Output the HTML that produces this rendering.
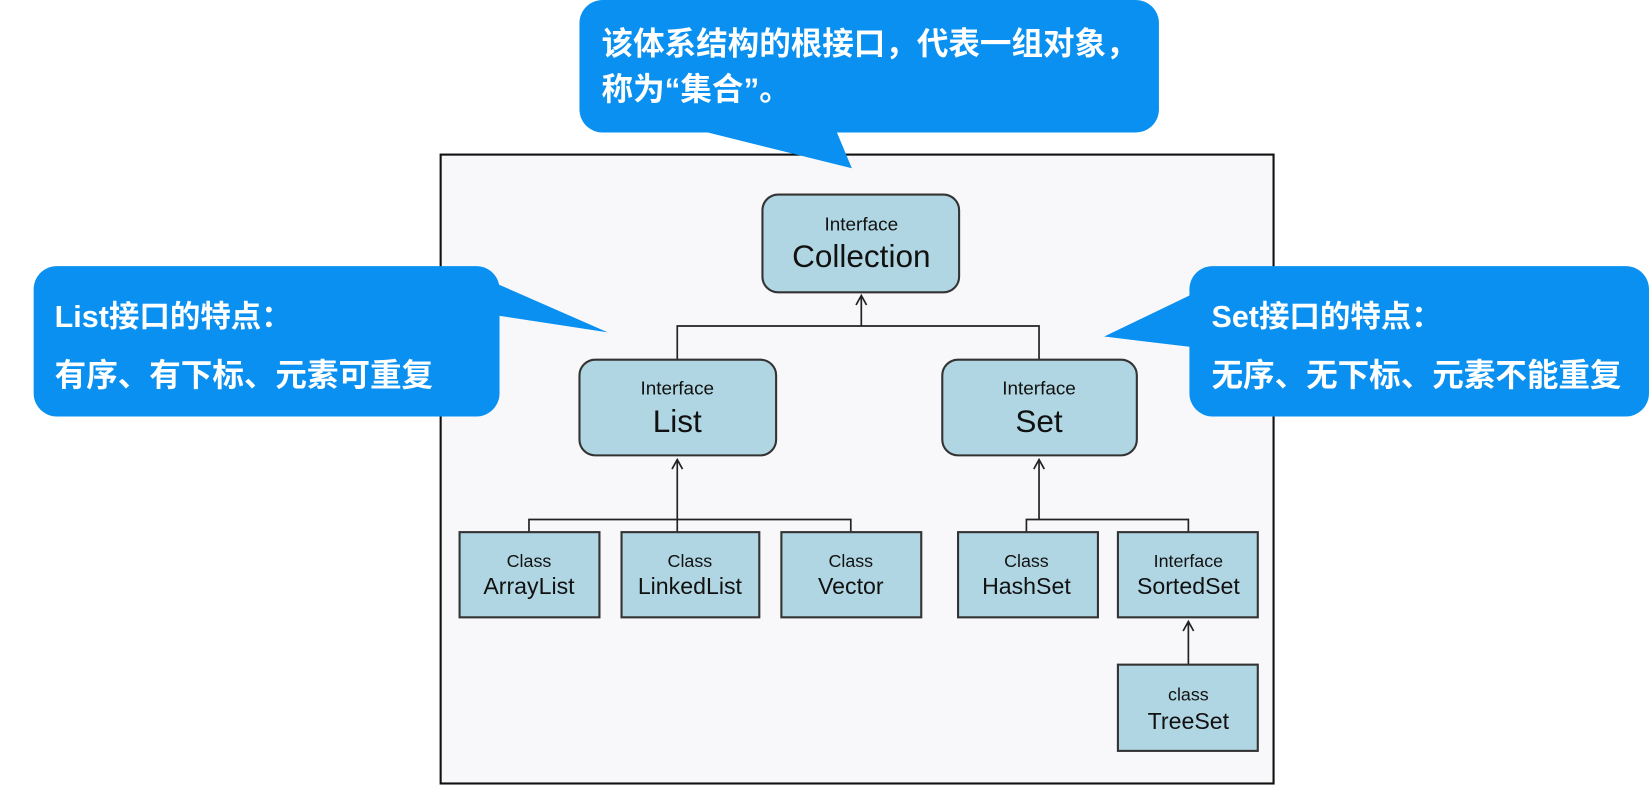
<!DOCTYPE html>
<html><head><meta charset="utf-8"><style>
html,body{margin:0;padding:0;background:#fff;}
svg{display:block;}
.cn{font-family:"Liberation Sans","Noto Sans CJK SC",sans-serif;font-weight:bold;fill:#fff;}
.s{font-family:"Liberation Sans",sans-serif;fill:#111;text-anchor:middle;}
</style></head><body>
<svg width="1649" height="802" viewBox="0 0 1568 762.6" xmlns="http://www.w3.org/2000/svg">
<rect x="0" y="0" width="1568" height="763" fill="#fff"/>
<rect x="419" y="147" width="792" height="598" fill="#f8f8fb" stroke="#111" stroke-width="2"/>
<g stroke="#222" stroke-width="1.6" fill="none">
<path d="M819 310 V282 M644 342 V310 H988 V342"/>
<path d="M644 506 V437 M503 506 V494 H809 V506"/>
<path d="M988 494 V437 M976 506 V494 H1130 V506"/>
<path d="M1130 632 V591"/>
<path d="M814 290 L819 281 L824 290 M639 446 L644 437 L649 446 M983 446 L988 437 L993 446 M1125 600 L1130 591 L1135 600"/>
</g>
<g fill="#b0d6e3" stroke="#333" stroke-width="2">
<rect x="725" y="185" width="187" height="93" rx="15"/>
<rect x="551" y="342" width="187" height="91" rx="15"/>
<rect x="896" y="342" width="185" height="91" rx="15"/>
<rect x="437" y="506" width="133" height="81"/>
<rect x="591" y="506" width="131" height="81"/>
<rect x="743" y="506" width="133" height="81"/>
<rect x="911" y="506" width="133" height="81"/>
<rect x="1063" y="506" width="133" height="81"/>
<rect x="1063" y="632" width="133" height="82"/>
</g>
<g class="s">
<text x="819" y="219" font-size="18">Interface</text><text x="819" y="254" font-size="30">Collection</text>
<text x="644" y="375" font-size="18">Interface</text><text x="644" y="411" font-size="30">List</text>
<text x="988" y="375" font-size="18">Interface</text><text x="988" y="411" font-size="30">Set</text>
<text x="503" y="539" font-size="17">Class</text><text x="503" y="565" font-size="22">ArrayList</text>
<text x="656" y="539" font-size="17">Class</text><text x="656" y="565" font-size="22">LinkedList</text>
<text x="809" y="539" font-size="17">Class</text><text x="809" y="565" font-size="22">Vector</text>
<text x="976" y="539" font-size="17">Class</text><text x="976" y="565" font-size="22">HashSet</text>
<text x="1130" y="539" font-size="17">Interface</text><text x="1130" y="565" font-size="22">SortedSet</text>
<text x="1130" y="666" font-size="17">class</text><text x="1130" y="693" font-size="22">TreeSet</text>
</g>
<g fill="#0a90f0">
<rect x="551" y="0" width="551" height="126" rx="22"/>
<polygon points="665,124 795,124 810,160"/>
<rect x="32" y="253" width="443" height="143" rx="22"/>
<polygon points="473,270 473,300 578,316"/>
<rect x="1131" y="253" width="437" height="143" rx="22"/>
<polygon points="1133,280 1133,330 1050,320"/>
</g>
<text class="cn" x="572" y="52" font-size="30">该体系结构的根接口，代表一组对象，</text>
<text class="cn" x="572" y="95" font-size="30">称为“集合”。</text>
<text class="cn" x="52" y="311" font-size="29">List接口的特点：</text>
<text class="cn" x="52" y="367" font-size="30">有序、有下标、元素可重复</text>
<text class="cn" x="1152" y="311" font-size="29">Set接口的特点：</text>
<text class="cn" x="1152" y="367" font-size="30">无序、无下标、元素不能重复</text>
</svg>
</body></html>
